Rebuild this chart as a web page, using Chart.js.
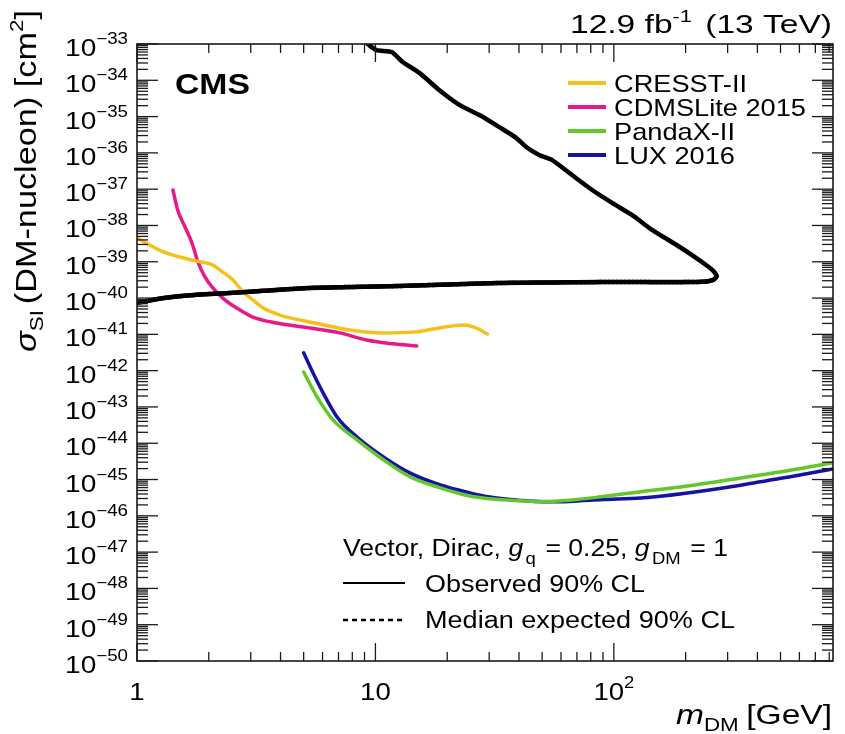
<!DOCTYPE html>
<html><head><meta charset="utf-8">
<script src="https://cdn.jsdelivr.net/npm/chart.js@4.4.0/dist/chart.umd.min.js"></script>
<style>html,body{margin:0;padding:0;background:#fff}</style>
</head><body>
<canvas id="c" width="845" height="734"></canvas>
<script>
// ---------- data ----------
const xRange = [1, 830];                 // m_DM [GeV]
const yRange = [1e-50, 1e-33];           // sigma_SI [cm^2]
const xTickValues = [1, 10, 100];
const xTickLabels = [['1'], ['10'], ['10', '2']];
const yTickExponents = [-33,-34,-35,-36,-37,-38,-39,-40,-41,-42,-43,-44,-45,-46,-47,-48,-49,-50];

const obsMass = [1.0, 1.29, 1.78, 2.45, 3.37, 5.3, 12.6, 33, 87, 200, 243, 262, 270, 262, 250, 212, 175, 144.5, 119, 98.3, 81.1, 66.8, 55.1, 48.6, 42.9, 38.9, 33.1, 27.3, 22.5, 18.5, 15.3, 13.0, 11.7, 10.1, 9.27];
const obsXsec = [7.4e-41, 1.0e-40, 1.23e-40, 1.38e-40, 1.58e-40, 1.9e-40, 2.15e-40, 2.6e-40, 2.75e-40, 2.75e-40, 2.85e-40, 3.2e-40, 4.0e-40, 5.5e-40, 7.2e-40, 1.55e-39, 3.5e-39, 7.6e-39, 1.95e-38, 4.2e-38, 9.5e-38, 2.45e-37, 6.3e-37, 8.7e-37, 1.45e-36, 2.6e-36, 5.1e-36, 1.1e-35, 2.1e-35, 5.4e-35, 1.6e-34, 3.2e-34, 6.0e-34, 6.8e-34, 1e-33];
const expMass = [1.0, 1.29, 1.78, 2.45, 3.37, 5.3, 12.6, 33, 87, 200, 243, 262, 270];
const expXsec = [7.4e-41, 1.0e-40, 1.23e-40, 1.38e-40, 1.58e-40, 1.9e-40, 2.15e-40, 2.6e-40, 2.75e-40, 2.75e-40, 2.85e-40, 3.2e-40, 4.0e-40];

const cresstMass = [1.0, 1.13, 1.29, 1.51, 1.78, 2.08, 2.29, 2.52, 2.74, 3.06, 3.37, 3.97, 5.3, 7.8, 10.7, 14.8, 18.5, 23.5, 26.4, 29.5];
const cresstXsec = [4.6e-39, 2.9e-39, 1.86e-39, 1.35e-39, 1.05e-39, 8.1e-40, 5.2e-40, 3.2e-40, 1.67e-40, 8.9e-41, 5.4e-41, 3.4e-41, 2.2e-41, 1.32e-41, 1.09e-41, 1.17e-41, 1.5e-41, 1.8e-41, 1.5e-41, 1.02e-41];

const cdmsMass = [1.415, 1.48, 1.59, 1.70, 1.80, 1.93, 2.08, 2.29, 2.62, 3.06, 3.85, 5.3, 7.08, 9.17, 11.8, 14.9];
const cdmsXsec = [9.5e-38, 2.7e-38, 9.1e-39, 3.3e-39, 1.0e-39, 3.8e-40, 1.9e-40, 1.0e-40, 5.3e-41, 3.0e-41, 2.05e-41, 1.5e-41, 1.1e-41, 7.0e-42, 5.5e-42, 4.8e-42];

const pandaMass = [5.0, 5.69, 6.64, 8.37, 10.8, 14.0, 18.7, 24.9, 30.2, 40, 50, 65, 90, 130, 200, 340, 550, 830];
const pandaXsec = [9.2e-43, 1.9e-43, 4.4e-44, 1.23e-44, 3.5e-45, 1.17e-45, 5.9e-46, 3.5e-46, 2.95e-46, 2.6e-46, 2.5e-46, 2.7e-46, 3.4e-46, 4.6e-46, 6.5e-46, 1.1e-45, 1.8e-45, 2.9e-45];

const luxMass = [5.0, 5.47, 6.03, 6.9, 8.37, 10.8, 14.0, 18.7, 24.9, 30.2, 40, 50, 65, 90, 130, 200, 340, 550, 830];
const luxXsec = [3.1e-42, 8.7e-43, 2.45e-43, 5.3e-44, 1.48e-44, 4.2e-45, 1.5e-45, 7.1e-46, 4.3e-46, 3.3e-46, 2.7e-46, 2.45e-46, 2.5e-46, 2.8e-46, 3.1e-46, 4.2e-46, 7.0e-46, 1.2e-45, 1.95e-45];

const seriesLabels = ['CRESST-II', 'CDMSLite 2015', 'PandaX-II', 'LUX 2016'];
const seriesColors = ['#f6c01c', '#e8188b', '#63c62a', '#1414a2'];

// ---------- build ----------
const pts = (xs, ys) => xs.map((x, i) => ({x, y: ys[i]}));
const FF = '"Liberation Sans", Arial, Helvetica, sans-serif';

function drawRuns(ctx, parts, x, y, align, opts) {
  opts = opts || {};
  let total = 0;
  const ws = parts.map(p => { ctx.font = p.font; const w = ctx.measureText(p.t).width + (p.gap || 0); total += w; return w; });
  const sx = opts.width ? opts.width / total : (opts.sx || 1);
  const x0 = align === 'right' ? x - total * sx : align === 'center' ? x - total * sx / 2 : x;
  ctx.save();
  ctx.textAlign = 'left'; ctx.textBaseline = 'alphabetic'; ctx.fillStyle = '#000';
  ctx.translate(x0, y); ctx.scale(sx, 1);
  let cx = 0;
  parts.forEach((p, i) => { ctx.font = p.font; ctx.fillText(p.t, cx + (p.pre || 0), p.dy || 0); cx += ws[i]; });
  ctx.restore();
  return sx;
}
function line(ctx, x1, y1, x2, y2) { ctx.beginPath(); ctx.moveTo(x1, y1); ctx.lineTo(x2, y2); ctx.stroke(); }

const decor = {
  id: 'decor',
  beforeDraw(chart) {
    const ctx = chart.ctx; ctx.save(); ctx.fillStyle = '#fff'; ctx.fillRect(0, 0, chart.width, chart.height); ctx.restore();
  },
  afterDatasetsDraw(chart) {
    const ctx = chart.ctx, a = chart.chartArea, xs = chart.scales.x, ys = chart.scales.y;
    ctx.save();
    // frame
    ctx.strokeStyle = '#1a1a1a'; ctx.lineWidth = 1.6;
    ctx.strokeRect(a.left, a.top, a.right - a.left, a.bottom - a.top);
    ctx.lineWidth = 1.3;
    // x ticks
    for (let e = Math.floor(Math.log10(xRange[0])); e <= Math.ceil(Math.log10(xRange[1])); e++) {
      for (let s = 1; s <= 9; s++) {
        const v = s * Math.pow(10, e);
        if (v < xRange[0] || v > xRange[1]) continue;
        const px = xs.getPixelForValue(v);
        const len = s === 1 ? 18 : 9;
        line(ctx, px, a.bottom, px, a.bottom - len);
        line(ctx, px, a.top, px, a.top + len);
      }
    }
    // y ticks
    const eMin = Math.round(Math.log10(yRange[0])), eMax = Math.round(Math.log10(yRange[1]));
    for (let e = eMin; e <= eMax; e++) {
      for (let s = 1; s <= 9; s++) {
        if (e === eMax && s > 1) continue;
        const v = s * Math.pow(10, e);
        const py = ys.getPixelForValue(v);
        const len = s === 1 ? 21 : 11;
        line(ctx, a.left, py, a.left + len, py);
        line(ctx, a.right, py, a.right - len, py);
      }
    }
    // y tick labels
    yTickExponents.forEach(e => {
      const py = ys.getPixelForValue(Math.pow(10, e));
      drawRuns(ctx, [
        {t: '10', font: `24px ${FF}`},
        {t: '\u2212' + Math.abs(e), font: `16px ${FF}`, dy: -12}
      ], 128, py + 12, 'right', {sx: 1.17});
    });
    // x tick labels
    xTickValues.forEach((v, i) => {
      const px = xs.getPixelForValue(v);
      const lab = xTickLabels[i];
      const parts = [{t: lab[0], font: `24px ${FF}`}];
      if (lab[1]) parts.push({t: lab[1], font: `16px ${FF}`, dy: -12});
      drawRuns(ctx, parts, px, 700, 'center', {sx: 1.15});
    });
    // axis titles
    drawRuns(ctx, [
      {t: 'm', font: `italic 27px ${FF}`},
      {t: 'DM', font: `18px ${FF}`, dy: 7, gap: 6},
      {t: '[GeV]', font: `27px ${FF}`}
    ], 832, 724, 'right', {width: 156});
    ctx.save();
    ctx.translate(36, 352); ctx.rotate(-Math.PI / 2);
    drawRuns(ctx, [
      {t: '\u03c3', font: `italic 29px ${FF}`},
      {t: 'SI', font: `19px ${FF}`, dy: 7, gap: 5},
      {t: '(DM-nucleon) [cm', font: `29px ${FF}`},
      {t: '2', font: `19px ${FF}`, dy: -13},
      {t: ']', font: `29px ${FF}`}
    ], 0, 0, 'left', {width: 342});
    ctx.restore();
    // header texts
    drawRuns(ctx, [
      {t: '12.9 fb', font: `26px ${FF}`},
      {t: '-1', font: `17px ${FF}`, dy: -11, gap: 3},
      {t: ' (13 TeV)', font: `26px ${FF}`}
    ], 832, 33, 'right', {width: 262});
    drawRuns(ctx, [{t: 'CMS', font: `bold 30px ${FF}`}], 175, 94, 'left', {width: 75});
    // legend (experiments)
    const ds = chart.data.datasets;
    let lsx = null;
    [0, 1, 2, 3].forEach((k, i) => {
      const d = ds[k + 2];
      const yy = 83 + i * 24;
      ctx.strokeStyle = d.borderColor; ctx.lineWidth = 4;
      line(ctx, 568, yy, 606, yy);
      if (lsx === null) { ctx.font = `24px ${FF}`; lsx = 192 / ctx.measureText(seriesLabels[1]).width; }
      drawRuns(ctx, [{t: d.label, font: `24px ${FF}`}], 614, yy + 9, 'left', {sx: lsx});
    });
    // annotation block
    drawRuns(ctx, [
      {t: 'Vector, Dirac, ', font: `23px ${FF}`},
      {t: 'g', font: `italic 23px ${FF}`},
      {t: 'q', font: `16px ${FF}`, dy: 8, pre: 2, gap: 4},
      {t: ' = 0.25, ', font: `23px ${FF}`},
      {t: 'g', font: `italic 23px ${FF}`},
      {t: 'DM', font: `16px ${FF}`, dy: 8, pre: 2, gap: 4},
      {t: ' = 1', font: `23px ${FF}`}
    ], 343, 556, 'left', {width: 385});
    ctx.strokeStyle = '#000'; ctx.lineWidth = 2;
    line(ctx, 343, 583, 405, 583);
    ctx.setLineDash([5, 4]); ctx.lineWidth = 2.5;
    line(ctx, 343, 620, 405, 620);
    ctx.setLineDash([]);
    drawRuns(ctx, [{t: 'Observed 90% CL', font: `23px ${FF}`}], 425, 592, 'left', {width: 220});
    drawRuns(ctx, [{t: 'Median expected 90% CL', font: `23px ${FF}`}], 425, 628, 'left', {width: 310});
    ctx.restore();
  }
};

new Chart(document.getElementById('c'), {
  type: 'line',
  data: {
    datasets: [
      {label: 'Observed 90% CL', data: pts(obsMass, obsXsec), borderColor: '#000', borderWidth: 4.5, tension: 0.2},
      {label: 'Median expected 90% CL', data: pts(expMass, expXsec), borderColor: '#000', borderWidth: 4.5, borderDash: [2, 2], tension: 0.2},
      {label: seriesLabels[0], data: pts(cresstMass, cresstXsec), borderColor: seriesColors[0], borderWidth: 3.5, cubicInterpolationMode: 'monotone'},
      {label: seriesLabels[1], data: pts(cdmsMass, cdmsXsec), borderColor: seriesColors[1], borderWidth: 3.5, cubicInterpolationMode: 'monotone'},
      {label: seriesLabels[2], data: pts(pandaMass, pandaXsec), borderColor: seriesColors[2], borderWidth: 3.5, cubicInterpolationMode: 'monotone'},
      {label: seriesLabels[3], data: pts(luxMass, luxXsec), borderColor: seriesColors[3], borderWidth: 3.5, cubicInterpolationMode: 'monotone'}
    ]
  },
  options: {
    responsive: false, animation: false, devicePixelRatio: 1,
    layout: {padding: {left: 137, right: 12, top: 44, bottom: 73}},
    elements: {point: {radius: 0}, line: {borderCapStyle: 'round', borderJoinStyle: 'round', fill: false}},
    plugins: {legend: {display: false}, tooltip: {enabled: false}},
    scales: {
      x: {type: 'logarithmic', min: xRange[0], max: xRange[1], display: false},
      y: {type: 'logarithmic', min: yRange[0], max: yRange[1], display: false}
    }
  },
  plugins: [decor]
});
</script>
</body></html>
